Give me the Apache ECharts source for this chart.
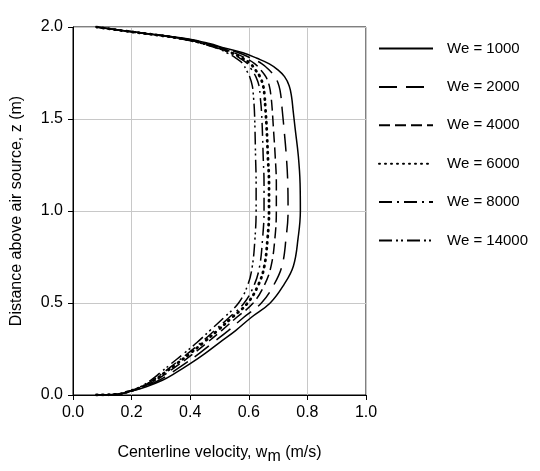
<!DOCTYPE html>
<html>
<head>
<meta charset="utf-8">
<script src="https://cdn.jsdelivr.net/npm/echarts@6/dist/echarts.min.js"></script>
<style>
html,body{margin:0;padding:0;background:#fff;}
#c{width:540px;height:471px;}
</style>
</head>
<body>
<div id="c"></div>
<script>
// Heights above air source z (m), shared by all series
var heights = [0, 0.005, 0.02, 0.045, 0.08, 0.12, 0.17, 0.225, 0.285, 0.35, 0.42, 0.5, 0.6, 0.7, 0.85, 1.0, 1.15, 1.3, 1.45, 1.55, 1.62, 1.68, 1.73, 1.77, 1.8, 1.83, 1.86, 1.885, 1.91, 1.935, 1.955, 1.975, 2.0];
// Centerline velocity w_m (m/s) for each Weber number
var we1000  = [0.08, 0.155, 0.196, 0.25, 0.305, 0.35, 0.4, 0.45, 0.5, 0.555, 0.607, 0.673, 0.72, 0.752, 0.768, 0.776, 0.775, 0.769, 0.758, 0.751, 0.746, 0.738, 0.722, 0.697, 0.67, 0.628, 0.58, 0.52, 0.465, 0.395, 0.3, 0.2, 0.08];
var we2000  = [0.08, 0.155, 0.194, 0.244, 0.294, 0.335, 0.382, 0.43, 0.478, 0.53, 0.581, 0.643, 0.686, 0.713, 0.727, 0.734, 0.733, 0.728, 0.72, 0.714, 0.71, 0.703, 0.689, 0.667, 0.645, 0.608, 0.565, 0.512, 0.458, 0.388, 0.297, 0.197, 0.08];
var we4000  = [0.08, 0.155, 0.193, 0.239, 0.283, 0.321, 0.365, 0.411, 0.458, 0.507, 0.557, 0.615, 0.654, 0.676, 0.689, 0.694, 0.694, 0.69, 0.684, 0.68, 0.676, 0.67, 0.658, 0.639, 0.621, 0.59, 0.55, 0.504, 0.452, 0.382, 0.295, 0.195, 0.08];
var we6000  = [0.08, 0.155, 0.192, 0.236, 0.277, 0.312, 0.354, 0.399, 0.445, 0.493, 0.542, 0.596, 0.633, 0.653, 0.664, 0.669, 0.669, 0.665, 0.661, 0.657, 0.654, 0.649, 0.638, 0.621, 0.606, 0.578, 0.541, 0.499, 0.447, 0.377, 0.293, 0.193, 0.08];
var we8000  = [0.08, 0.155, 0.191, 0.234, 0.272, 0.307, 0.347, 0.391, 0.437, 0.483, 0.532, 0.584, 0.619, 0.637, 0.647, 0.652, 0.652, 0.649, 0.646, 0.643, 0.639, 0.635, 0.624, 0.609, 0.596, 0.57, 0.535, 0.495, 0.445, 0.375, 0.292, 0.192, 0.08];
var we14000 = [0.08, 0.155, 0.19, 0.23, 0.265, 0.297, 0.335, 0.378, 0.423, 0.467, 0.515, 0.565, 0.597, 0.612, 0.621, 0.625, 0.625, 0.623, 0.621, 0.619, 0.616, 0.612, 0.603, 0.59, 0.58, 0.557, 0.525, 0.49, 0.44, 0.37, 0.29, 0.19, 0.08];
var seriesNames = ['We = 1000', 'We = 2000', 'We = 4000', 'We = 6000', 'We = 8000', 'We = 14000'];

var valueSets = [we1000, we2000, we4000, we6000, we8000, we14000];
var styles = [
  {type: 'solid', width: 1.5},
  {type: [18, 9], width: 1.5},
  {type: [11, 5], width: 1.5},
  {type: [1, 5], width: 2.8, cap: 'round'},
  {type: [13, 5, 2, 5], width: 1.5},
  {type: [13, 4, 2, 3, 2, 4], width: 1.5}
];

var series = valueSets.map(function (vals, i) {
  return {
    name: seriesNames[i],
    type: 'line',
    smooth: 0.4,
    symbol: 'none',
    showSymbol: false,
    data: vals.map(function (w, j) { return [w, heights[j]]; }),
    lineStyle: {color: '#000', width: styles[i].width, type: styles[i].type, cap: styles[i].cap || 'butt'},
    itemStyle: {color: '#000'},
    animation: false
  };
});

var font = 'Liberation Sans, Arial, sans-serif';
var chart = echarts.init(document.getElementById('c'), null, {renderer: 'canvas'});
chart.setOption({
  backgroundColor: '#fff',
  animation: false,
  textStyle: {fontFamily: font, color: '#000'},
  grid: {left: 73, top: 27, right: 174, bottom: 76, show: true, borderColor: '#000', borderWidth: 1, backgroundColor: 'transparent'},
  legend: {
    orient: 'vertical',
    left: 378,
    top: 41,
    padding: 0,
    itemWidth: 54,
    itemHeight: 14,
    itemGap: 23.4,
    data: seriesNames,
    itemStyle: {color: 'transparent', borderWidth: 0, borderColor: 'transparent'},
    textStyle: {fontFamily: font, fontSize: 15, color: '#000', padding: [0, 0, 0, 9]}
  },
  xAxis: {
    type: 'value',
    min: 0, max: 1, interval: 0.2,
    name: 'Centerline velocity, w{sub|m} (m/s)',
    nameLocation: 'middle',
    nameGap: 46,
    nameTextStyle: {fontFamily: font, fontSize: 16, color: '#000', rich: {sub: {fontFamily: font, fontSize: 16, color: '#000', padding: [8, 0, 0, 0]}}},
    axisLine: {show: true, lineStyle: {color: '#000', width: 1}},
    axisTick: {show: true, inside: false, length: 5, lineStyle: {color: '#000'}},
    axisLabel: {fontFamily: font, fontSize: 16, color: '#000', margin: 10, formatter: function (v) { return v.toFixed(1); }},
    splitLine: {show: true, lineStyle: {color: '#c8c8c8', width: 1}}
  },
  yAxis: {
    type: 'value',
    min: 0, max: 2, interval: 0.5,
    name: 'Distance above air source, z (m)',
    nameLocation: 'middle',
    nameGap: 48,
    nameTextStyle: {fontFamily: font, fontSize: 16, color: '#000'},
    axisLine: {show: true, lineStyle: {color: '#000', width: 1}},
    axisTick: {show: true, inside: false, length: 5, lineStyle: {color: '#000'}},
    axisLabel: {fontFamily: font, fontSize: 16, color: '#000', margin: 10, formatter: function (v) { return v.toFixed(1); }},
    splitLine: {show: true, lineStyle: {color: '#c8c8c8', width: 1}}
  },
  series: series
});
</script>
</body>
</html>
